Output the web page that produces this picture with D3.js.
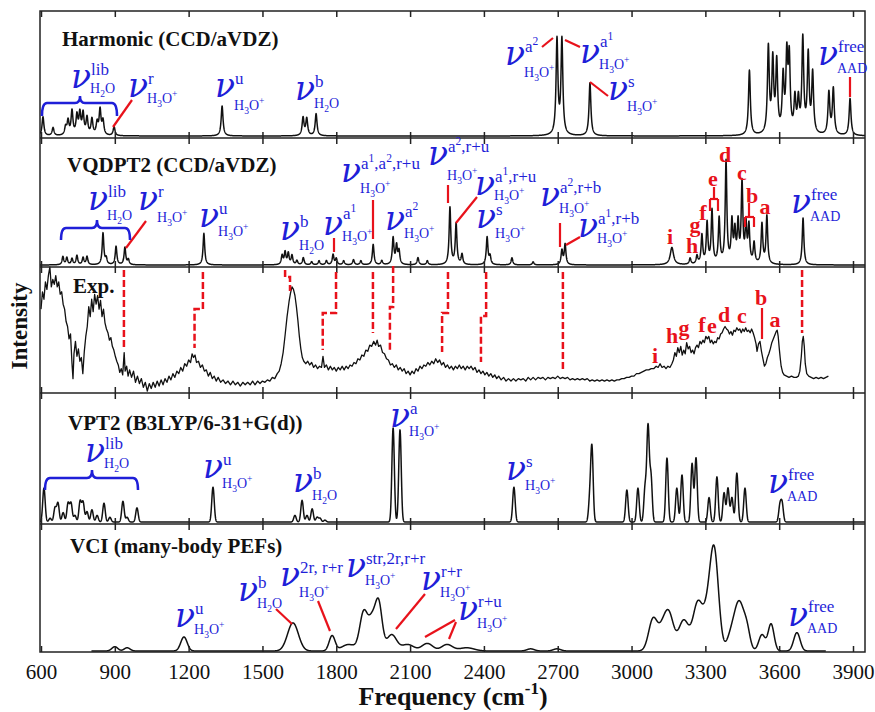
<!DOCTYPE html>
<html>
<head>
<meta charset="utf-8">
<script src="https://cdn.jsdelivr.net/npm/d3@7"></script>
<style>
body { margin: 0; background: #fff; }
text { font-family: "Liberation Serif", "Times New Roman", serif; }
text.nu { font-family: "DejaVu Serif", serif; font-style: italic; }
</style>
</head>
<body>
<div id="chart"></div>
<script>
// ---- data ----
const freqTicks = [600, 900, 1200, 1500, 1800, 2100, 2400, 2700, 3000, 3300, 3600, 3900];

// [frequency, relative height] (optional 3rd: width)
const harmonicPeaks = [
  [608,0.19],[649,0.08],[700,0.08],[710,0.14],[726,0.24],[746,0.19],[758,0.21],[771,0.21],
  [787,0.17],[807,0.16],[828,0.12],[840,0.25],[852,0.14],[897,0.09],
  [1336,0.30],[1665,0.18],[1680,0.17],[1718,0.22],
  [2697,0.95],[2717,0.95],[2831,0.53],
  [3479,0.65],[3556,0.86],[3574,0.72],[3590,0.7],[3616,0.55],[3631,0.74],[3641,0.72],
  [3664,0.34],[3678,0.32],[3696,0.94],[3718,0.78],[3736,0.6],[3802,0.42],[3820,0.46],[3888,0.37]
];

const vqdpt2Peaks = [
  [689,0.08],[705,0.07],[726,0.06],[746,0.09],[771,0.07],[787,0.08],[852,0.31],[865,0.06],
  [905,0.18],[941,0.17],[955,0.05],[1262,0.31],
  [1580,0.09],[1592,0.12],[1605,0.11],[1620,0.09],[1640,0.04],[1666,0.07],[1700,0.03],
  [1730,0.04],[1760,0.04],[1787,0.1],[1800,0.06],[1830,0.04],[1870,0.05],[1900,0.04],
  [1950,0.2],[1985,0.04],[2031,0.26],[2045,0.18],[2055,0.13],[2132,0.07],[2170,0.04],
  [2262,0.56],[2287,0.4],[2311,0.1],[2413,0.27],[2425,0.08],[2514,0.07],[2600,0.03],
  [2717,0.14],[2730,0.2],
  [3164,0.17,8],[3238,0.06],[3266,0.08],[3286,0.28],[3307,0.4],[3327,0.52],[3356,0.44],
  [3384,1.0],[3408,0.4],[3420,0.3],[3433,0.38],[3449,0.78],[3465,0.36],[3477,0.36],
  [3498,0.2],[3530,0.39],[3550,0.47],[3697,0.46]
];

const vpt2Peaks = [
  [612,0.36],[637,0.04],[657,0.15],[669,0.2],[690,0.1],[710,0.2],[722,0.2],[738,0.07],
  [759,0.22],[771,0.21],[787,0.11],[807,0.13],[828,0.07],[856,0.2],[880,0.05],[933,0.22],
  [950,0.05],[990,0.15],[1299,0.37],
  [1632,0.07],[1661,0.23],[1681,0.07],[1702,0.14],[1722,0.05],[1734,0.04],[1754,0.02],
  [2031,1.0],[2059,0.98],[2522,0.37],[2830,0.22],[2839,0.78],
  [2981,0.34],[3026,0.36],[3055,0.36],[3067,1.0],[3079,0.48],[3144,0.68],[3184,0.36],
  [3205,0.5],[3246,0.62],[3262,0.68],[3315,0.26],[3347,0.48],[3376,0.31],[3392,0.36],
  [3408,0.26],[3428,0.52],[3461,0.36],[3603,0.17],[3612,0.19]
];

// [frequency, height, gaussian sigma]
const vciPeaks = [
  [900,0.04,12],[950,0.03,12],[1181,0.13,13],[1624,0.26,22],[1783,0.14,12],[1850,0.06,28],
  [1912,0.36,16],[1945,0.25,14],[1972,0.44,14],[2025,0.15,20],[2090,0.06,25],[2170,0.07,22],
  [2250,0.06,22],[2330,0.03,30],[2590,0.02,15],[2697,0.02,15],
  [3088,0.3,18],[3122,0.1,15],[3150,0.36,20],[3212,0.28,20],[3270,0.45,20],[3305,0.2,15],
  [3335,0.95,18],[3400,0.08,15],[3437,0.46,22],[3470,0.12,12],[3530,0.15,13],[3567,0.25,12],
  [3672,0.17,13]
];

// experimental trace [frequency, intensity]
const expTrace = [
  [600,0.66],[606,0.80],[612,0.74],[618,0.88],[624,0.82],[630,0.93],[636,1.0],[642,0.84],[648,0.90],[654,0.86],
  [660,0.93],[666,0.84],[672,0.88],[678,0.78],[684,0.80],[690,0.70],[696,0.66],[702,0.56],[708,0.52],[714,0.42],
  [720,0.46],[726,0.22],[730,0.10],[734,0.30],[740,0.40],[746,0.28],[752,0.34],[758,0.24],[764,0.27],[770,0.14],
  [776,0.32],[782,0.44],[788,0.52],[794,0.68],[800,0.60],[806,0.74],[812,0.64],[818,0.78],[824,0.70],[830,0.77],
  [836,0.66],[842,0.73],[848,0.60],[854,0.66],[860,0.55],[866,0.50],[872,0.47],[878,0.41],[884,0.43],[890,0.36],
  [896,0.33],[902,0.28],[908,0.24],[914,0.21],[920,0.15],[926,0.18],[932,0.13],[938,0.31],[942,0.16],[948,0.20],
  [954,0.12],[960,0.17],[968,0.11],[976,0.16],[984,0.07],[992,0.12],[1000,0.06],[1008,0.10],[1016,0.03],[1024,0.07],
  [1032,0.0],[1040,0.06],[1048,0.02],[1056,0.07],[1064,0.03],[1072,0.08],[1080,0.04],[1088,0.09],[1096,0.05],[1104,0.10],
  [1112,0.07],[1120,0.12],[1128,0.09],[1136,0.14],[1144,0.11],[1152,0.16],[1160,0.14],[1168,0.19],[1176,0.16],[1184,0.22],
  [1192,0.20],[1200,0.25],[1208,0.23],[1214,0.30],[1220,0.27],[1226,0.29],[1232,0.23],[1240,0.24],[1248,0.19],[1256,0.21],
  [1264,0.16],[1272,0.17],[1280,0.12],[1288,0.15],[1296,0.10],[1304,0.12],[1312,0.08],[1320,0.11],[1330,0.07],[1340,0.09],
  [1350,0.06],[1360,0.08],[1370,0.05],[1380,0.08],[1390,0.05],[1400,0.07],[1410,0.04],[1420,0.07],[1430,0.05],[1440,0.07],
  [1450,0.05],[1460,0.08],[1470,0.05],[1480,0.08],[1490,0.06],[1500,0.08],[1510,0.07],[1520,0.09],[1530,0.08],[1540,0.11],
  [1550,0.10],[1560,0.14],[1568,0.16],[1576,0.22],[1584,0.31],[1592,0.45],[1600,0.60],[1608,0.72],[1614,0.79],[1620,0.84],
  [1626,0.82],[1632,0.77],[1638,0.68],[1644,0.57],[1650,0.44],[1656,0.34],[1662,0.27],[1668,0.24],[1676,0.22],[1684,0.24],
  [1692,0.21],[1700,0.23],[1708,0.19],[1716,0.21],[1724,0.18],[1732,0.20],[1740,0.19],[1746,0.28],[1752,0.19],[1760,0.21],
  [1768,0.17],[1776,0.20],[1784,0.17],[1792,0.19],[1800,0.16],[1808,0.19],[1816,0.17],[1824,0.20],[1832,0.17],[1840,0.20],
  [1848,0.18],[1856,0.21],[1864,0.20],[1872,0.23],[1880,0.22],[1888,0.26],[1896,0.25],[1904,0.29],[1912,0.28],[1920,0.33],
  [1928,0.32],[1936,0.37],[1944,0.36],[1952,0.40],[1960,0.37],[1966,0.41],[1972,0.36],[1980,0.37],[1988,0.31],[1996,0.30],
  [2004,0.26],[2012,0.25],[2020,0.21],[2028,0.22],[2036,0.19],[2044,0.21],[2052,0.17],[2060,0.19],[2068,0.16],[2076,0.18],
  [2084,0.14],[2092,0.16],[2100,0.13],[2108,0.16],[2116,0.14],[2124,0.18],[2132,0.16],[2140,0.20],[2148,0.18],[2156,0.21],
  [2164,0.20],[2172,0.23],[2180,0.21],[2188,0.24],[2196,0.22],[2204,0.26],[2212,0.23],[2220,0.25],[2228,0.21],[2236,0.23],
  [2244,0.19],[2252,0.21],[2260,0.18],[2268,0.20],[2276,0.17],[2284,0.20],[2292,0.18],[2300,0.21],[2308,0.18],[2316,0.20],
  [2324,0.17],[2332,0.20],[2340,0.18],[2348,0.20],[2356,0.17],[2364,0.19],[2372,0.15],[2380,0.17],[2388,0.14],[2396,0.16],
  [2404,0.13],[2412,0.15],[2420,0.12],[2428,0.14],[2436,0.11],[2444,0.13],[2452,0.10],[2460,0.12],[2470,0.09],[2480,0.11],
  [2490,0.08],[2500,0.10],[2510,0.08],[2520,0.10],[2530,0.08],[2540,0.10],[2550,0.09],[2560,0.10],[2570,0.08],[2580,0.11],
  [2590,0.09],[2600,0.11],[2610,0.09],[2620,0.11],[2630,0.10],[2640,0.11],[2650,0.09],[2660,0.11],[2670,0.10],[2680,0.11],
  [2690,0.10],[2700,0.12],[2710,0.10],[2720,0.11],[2730,0.10],[2740,0.11],[2750,0.09],[2760,0.10],[2770,0.09],[2780,0.10],
  [2790,0.09],[2800,0.10],[2810,0.09],[2820,0.10],[2830,0.08],[2840,0.09],[2850,0.08],[2860,0.09],[2870,0.08],[2880,0.09],
  [2890,0.08],[2900,0.09],[2910,0.08],[2920,0.09],[2930,0.08],[2940,0.09],[2950,0.09],[2960,0.10],[2970,0.10],[2980,0.11],
  [2990,0.11],[3000,0.12],[3010,0.12],[3020,0.14],[3030,0.14],[3040,0.15],[3050,0.16],[3060,0.17],[3070,0.17],[3080,0.18],
  [3090,0.18],[3100,0.20],[3108,0.19],[3116,0.22],[3124,0.19],[3132,0.20],[3140,0.18],[3148,0.20],[3156,0.19],[3164,0.22],
  [3170,0.25],[3176,0.31],[3182,0.28],[3188,0.35],[3194,0.31],[3200,0.36],[3206,0.29],[3212,0.33],[3218,0.30],[3224,0.39],
  [3230,0.34],[3236,0.36],[3242,0.31],[3248,0.33],[3254,0.30],[3260,0.35],[3266,0.37],[3272,0.35],[3278,0.40],[3284,0.38],
  [3290,0.41],[3296,0.39],[3302,0.44],[3308,0.42],[3314,0.44],[3320,0.39],[3326,0.41],[3332,0.38],[3338,0.40],[3344,0.39],
  [3350,0.43],[3356,0.42],[3362,0.46],[3368,0.47],[3374,0.50],[3380,0.52],[3386,0.50],[3392,0.49],[3398,0.46],[3404,0.48],
  [3410,0.45],[3416,0.49],[3422,0.48],[3428,0.51],[3434,0.49],[3440,0.50],[3446,0.47],[3452,0.50],[3458,0.48],[3464,0.51],
  [3470,0.48],[3476,0.49],[3482,0.47],[3488,0.50],[3494,0.47],[3500,0.43],[3506,0.38],[3510,0.32],[3516,0.38],[3522,0.40],
  [3528,0.32],[3534,0.26],[3540,0.20],[3546,0.22],[3552,0.27],[3558,0.30],[3564,0.34],[3570,0.39],[3576,0.42],[3582,0.45],
  [3588,0.48],[3592,0.49],[3596,0.44],[3600,0.35],[3604,0.27],[3608,0.20],[3614,0.15],[3620,0.13],[3630,0.12],[3640,0.11],
  [3650,0.12],[3660,0.11],[3670,0.11],[3678,0.12],[3684,0.16],[3690,0.28],[3694,0.40],[3698,0.44],[3702,0.36],[3706,0.22],
  [3712,0.14],[3720,0.12],[3730,0.11],[3740,0.10],[3750,0.11],[3760,0.10],[3770,0.11],[3780,0.10],[3790,0.11],[3800,0.12]
];

// ---- layout ----
const W = 875, H = 712;
const blue = "#1f1fd8", red = "#e8121b";
const svg = d3.select("#chart").append("svg").attr("width", W).attr("height", H);

const x = d3.scaleLinear().domain([600, 3900]).range([41, 853]);
const frameL = 40, frameR = 865;

const panels = [
  { top: 11,  bottom: 138, yr: [136, 36],  title: "Harmonic (CCD/aVDZ)",    tx: 62, ty: 46 },
  { top: 138, bottom: 267, yr: [265, 163], title: "VQDPT2 (CCD/aVDZ)",      tx: 67, ty: 172 },
  { top: 267, bottom: 393, yr: [391, 267], title: "Exp.",                   tx: 73, ty: 293 },
  { top: 393, bottom: 524, yr: [522, 428], title: "VPT2 (B3LYP/6-31+G(d))", tx: 68, ty: 430 },
  { top: 524, bottom: 652, yr: [651, 543], title: "VCI (many-body PEFs)",   tx: 70, ty: 553 }
];
panels.forEach(p => p.y = d3.scaleLinear().domain([0, 1]).range(p.yr));

function lorentz(peaks, gamma, lo, hi) {
  return d3.range(lo, hi, 0.5).map(f => [f, d3.sum(peaks, p => {
    const g = p[2] || gamma, d = (f - p[0]) / g;
    return p[1] / (1 + d * d);
  })]);
}
function gauss(peaks, sigma, lo, hi) {
  return d3.range(lo, hi, 0.5).map(f => [f, d3.sum(peaks, p => {
    const s = p[2] || sigma, d = (f - p[0]) / s;
    return p[1] * Math.exp(-0.5 * d * d);
  })]);
}

const traces = [
  lorentz(harmonicPeaks, 4.5, 596, 3952),
  lorentz(vqdpt2Peaks, 4, 596, 3952),
  expTrace,
  gauss(vpt2Peaks, 5, 596, 3952),
  gauss(vciPeaks, 20, 805, 3790)
];

svg.append("defs").append("clipPath").attr("id", "clip")
  .append("rect").attr("x", frameL).attr("y", 11).attr("width", frameR - frameL).attr("height", 641);

panels.forEach((p, i) => {
  const line = d3.line().x(d => x(d[0])).y(d => p.y(d[1]));
  svg.append("path")
    .attr("clip-path", "url(#clip)")
    .attr("d", line(traces[i]))
    .attr("fill", "none")
    .attr("stroke", "#111")
    .attr("stroke-width", i === 2 ? 1.3 : 1.5)
    .attr("stroke-linejoin", "round");

  // inward ticks top and bottom
  svg.append("g")
    .attr("transform", `translate(0,${p.top})`)
    .call(d3.axisTop(x).tickValues(freqTicks).tickSizeInner(-6).tickSizeOuter(0).tickFormat(""))
    .call(g => g.select(".domain").remove())
    .call(g => g.selectAll("line").attr("stroke", "#222").attr("stroke-width", 1.5));
  svg.append("g")
    .attr("transform", `translate(0,${p.bottom})`)
    .call(d3.axisBottom(x).tickValues(freqTicks).tickSizeInner(-6).tickSizeOuter(0)
      .tickFormat(i === 4 ? d3.format("d") : ""))
    .call(g => g.select(".domain").remove())
    .call(g => g.selectAll("line").attr("stroke", "#222").attr("stroke-width", 1.5))
    .call(g => g.selectAll("text").attr("font-size", 21).attr("fill", "#111")
      .attr("y", 12).attr("dy", "0.71em"));

  svg.append("text")
    .attr("x", p.tx).attr("y", p.ty)
    .attr("font-size", 21).attr("font-weight", "bold").attr("fill", "#111")
    .text(p.title);
});

// frame
svg.append("rect")
  .attr("x", frameL).attr("y", 11).attr("width", frameR - frameL).attr("height", 641)
  .attr("fill", "none").attr("stroke", "#222").attr("stroke-width", 1.5);
panels.slice(1).forEach(p => {
  svg.append("line").attr("x1", frameL).attr("x2", frameR).attr("y1", p.top).attr("y2", p.top)
    .attr("stroke", "#222").attr("stroke-width", 1.5);
});

// axis titles
svg.append("text")
  .attr("transform", "translate(27,326) rotate(-90)")
  .attr("text-anchor", "middle").attr("font-size", 23).attr("font-weight", "bold").attr("fill", "#111")
  .text("Intensity");
const xl = svg.append("text")
  .attr("x", 453).attr("y", 705)
  .attr("text-anchor", "middle").attr("font-size", 26).attr("font-weight", "bold").attr("fill", "#111");
xl.append("tspan").text("Frequency (cm");
xl.append("tspan").attr("dy", -11).attr("font-size", 17).text("-1");
xl.append("tspan").attr("dy", 11).text(")");

// ---- annotations ----
function rich(x0, y0, s, size, color) {
  const t = svg.append("text").attr("x", x0).attr("y", y0).attr("font-size", size).attr("fill", color);
  let off = 0;
  s.split(/([\^_].)/).filter(d => d.length).forEach(part => {
    let target = 0, fs = size, txt = part;
    if (part[0] === "^" || part[0] === "_") {
      target = part[0] === "^" ? -size * 0.42 : size * 0.3;
      fs = size * 0.68;
      txt = part[1];
    }
    t.append("tspan").attr("dy", target - off).attr("font-size", fs).text(txt);
    off = target;
  });
}

function nu(l) {
  svg.append("text").attr("class", "nu").attr("x", l[0] - 2).attr("y", l[1])
    .attr("font-size", 33).attr("fill", blue).text("ν");
  rich(l[0] + 18, l[1] + (l[5] || -13), l[2], 17, blue);
  rich(l[0] + 17, l[1] + l[4], l[3], 14, blue);
}

// [x, baseline, superscript, subscript, sub dy, sup dy]
const nuLabels = [
  [73, 88, "lib", "H_2O", 5], [130, 97, "r", "H_3O^+", 6], [217, 97, "u", "H_3O^+", 13],
  [297, 100, "b", "H_2O", 8], [507, 65, "a^2", "H_3O^+", 12], [582, 63, "a^1", "H_3O^+", 6, -16],
  [610, 100, "s", "H_3O^+", 11], [820, 65, "free", "AAD", 8],

  [90, 210, "lib", "H_2O", 10], [140, 210, "r", "H_3O^+", 12], [201, 227, "u", "H_3O^+", 9],
  [282, 240, "b", "H_2O", 10], [325, 235, "a^1", "H_3O^+", 6, -16], [343, 182, "a^1,a^2,r+u", "H_3O^+", 11],
  [387, 230, "a^2", "H_3O^+", 8], [430, 165, "a^2,r+u", "H_3O^+", 15], [477, 195, "a^1,r+u", "H_3O^+", 5],
  [478, 228, "s", "H_3O^+", 10], [542, 206, "a^2,r+b", "H_3O^+", 7], [580, 237, "a^1,r+b", "H_3O^+", 6],
  [793, 213, "free", "AAD", 8],

  [87, 462, "lib", "H_2O", 6], [205, 478, "u", "H_3O^+", 10], [295, 492, "b", "H_2O", 8],
  [392, 427, "a", "H_3O^+", 9], [508, 480, "s", "H_3O^+", 10], [770, 493, "free", "AAD", 8],

  [177, 627, "u", "H_3O^+", 7], [240, 601, "b", "H_2O", 7], [282, 586, "2r, r+r", "H_3O^+", 11],
  [348, 577, "str,2r,r+r", "H_3O^+", 8], [423, 590, "r+r", "H_3O^+", 7], [460, 620, "r+u", "H_3O^+", 8],
  [790, 626, "free", "AAD", 7, -14]
];
nuLabels.forEach(nu);

// red leader lines [x1,y1,x2,y2]
const leaders = [
  [113,127,132,100],[542,47,553,38],[565,40,580,47],[590,82,608,96],[850,77,850,97],
  [126,248,146,221],[334,238,334,252],[373,200,373,239],[448,185,448,203],[456,223,477,197],
  [560,223,560,247],[566,245,580,237],
  [714,187,714,199],[710,199,718,199],[710,199,710,211],[718,199,718,211],
  [749,203,749,217],[745,217,754,217],[745,217,745,227],[754,217,754,227],
  [762,308,762,339],
  [276,609,292,624],[318,601,330,631],[396,629,425,594],[425,637,455,620],[449,639,456,622]
];
svg.append("g").selectAll("line").data(leaders).join("line")
  .attr("x1", d => d[0]).attr("y1", d => d[1]).attr("x2", d => d[2]).attr("y2", d => d[3])
  .attr("stroke", red).attr("stroke-width", 2.2);

// dashed connectors VQDPT2 -> Exp: [freq top, freq bottom, y top, y jog, y bottom]
const connectors = [
  [937, 937, 270, 350, 350], [1258, 1224, 272, 309, 348], [1592, 1612, 270, 277, 291],
  [1799, 1745, 272, 313, 350], [1949, 1949, 272, 333, 333], [2031, 2018, 266, 307, 350],
  [2254, 2230, 272, 313, 352], [2409, 2388, 272, 316, 362], [2721, 2721, 272, 370, 370],
  [3693, 3693, 270, 333, 333]
];
svg.append("g").selectAll("path").data(connectors).join("path")
  .attr("d", d => `M${x(d[0])},${d[2]}V${d[3]}H${x(d[1])}V${d[4]}`)
  .attr("fill", "none").attr("stroke", red).attr("stroke-width", 2.5).attr("stroke-dasharray", "7,3");

// red letter labels [letter, x, baseline]
const letters = [
  ["i",670,244],["h",692,253],["g",695,232],["f",703,220],["e",713,186],["d",725,162],
  ["c",742,180],["b",752,203],["a",765,214],
  ["i",655,363],["h",672,343],["g",684,335],["f",702,332],["e",712,333],["d",724,322],
  ["c",742,323],["b",761,305],["a",775,327]
];
svg.append("g").selectAll("text").data(letters).join("text")
  .attr("x", d => d[1]).attr("y", d => d[2])
  .attr("text-anchor", "middle").attr("font-size", 22).attr("font-weight", "bold").attr("fill", red)
  .text(d => d[0]);

// blue braces [x1, x2, xmid, y, yEnd, yMid]
const braces = [[42,117,80,103,116,96],[61,130,97,228,240,220],[45,138,92,478,490,470]];
svg.append("g").selectAll("path").data(braces).join("path")
  .attr("d", ([a, b, m, y, ye, ym]) => {
    const r = 5;
    return `M${a},${ye}Q${a},${y} ${a + r},${y}L${m - r},${y}Q${m},${y} ${m},${ym}` +
      `Q${m},${y} ${m + r},${y}L${b - r},${y}Q${b},${y} ${b},${ye}`;
  })
  .attr("fill", "none").attr("stroke", blue).attr("stroke-width", 2.5);
</script>
</body>
</html>
